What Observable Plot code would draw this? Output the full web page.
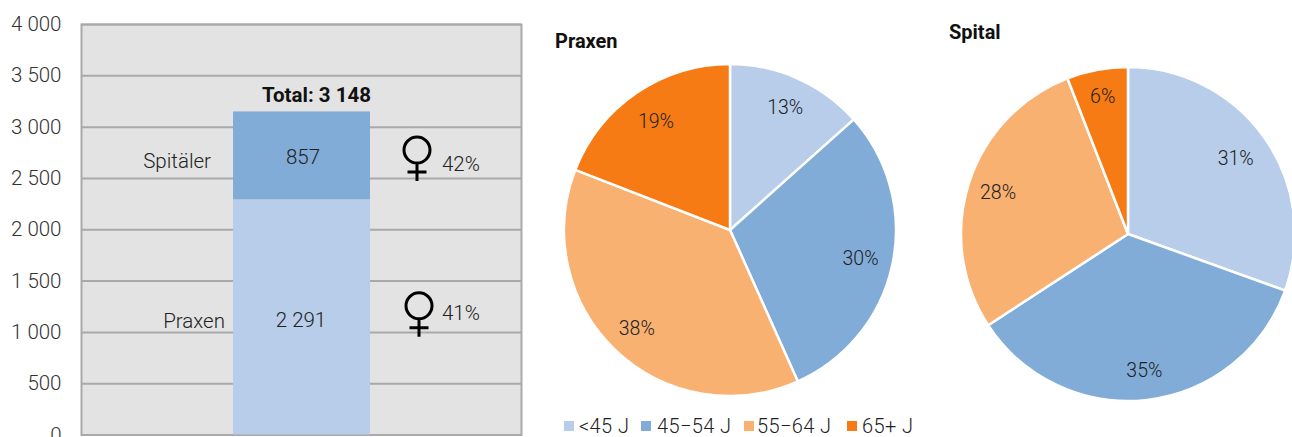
<!DOCTYPE html>
<html><head><meta charset="utf-8">
<script src="https://cdn.jsdelivr.net/npm/d3@7"></script>
<script src="https://cdn.jsdelivr.net/npm/@observablehq/plot@0.6"></script>
<style>
html,body{margin:0;padding:0;background:#fff;overflow:hidden;width:1292px;height:437px}
#root{position:relative;width:1292px;height:437px;font-family:Roboto,sans-serif}
#root svg{position:absolute;background:transparent}
.ttl{position:absolute;font-weight:700;font-size:20px;color:#111;line-height:20px}
.leg{position:absolute;font-weight:300;font-size:20px;letter-spacing:.4px;color:#222;line-height:20px;white-space:nowrap;top:416px}
.sw{position:absolute;width:10px;height:10px;top:421px}
</style></head><body><div id="root"></div>
<script>
const ageGroups = ["<45 J", "45−54 J", "55−64 J", "65+ J"];
const ageColors = ["#b7cdea", "#82acd8", "#f9b172", "#f77b14"];
const praxenShares = [13.4, 29.9, 37.6, 19.1];
const spitalShares = [30.5, 35.3, 28.3, 5.9];
const barSegments = ["Praxen", "Spitäler"];
const barValues = [2291, 857];
const barColors = ["#b7cdea", "#82acd8"];
const femaleShares = ["41%", "42%"];
const yTicks = [0, 500, 1000, 1500, 2000, 2500, 3000, 3500, 4000];
const total = 3148;

const root = document.getElementById("root");
const fmtS = n => String(n).replace(/\B(?=(\d{3})+$)/g, " ");
const FONT = "Roboto";

// ---- stacked bar ----
let acc = 0;
const stack = barSegments.map((s, i) => {
  const o = {seg: s, y1: acc, y2: acc + barValues[i], v: barValues[i], c: barColors[i]};
  acc += barValues[i];
  return o;
});
const [praxen, spitaeler] = stack;
const cat = "Total";
const x = () => cat;
const label = {fontSize: 20.5, fontWeight: 300, fill: "#222"};
// Venus sign as a dot symbol: ring, stem and crossbar
const venusSymbol = {draw(ctx) {
  ctx.moveTo(13, 0); ctx.arc(0, 0, 13, 0, 2 * Math.PI);
  ctx.moveTo(0, 13); ctx.lineTo(0, 31);
  ctx.moveTo(-9.5, 22); ctx.lineTo(9.5, 22);
}};
const venus = {x, symbol: venusSymbol, fill: "none", stroke: "#000", strokeWidth: 3};
const bar = Plot.plot({
  width: 540, height: 437,
  marginLeft: 81, marginRight: 19, marginTop: 24, marginBottom: 2.5,
  style: {fontFamily: FONT, background: "transparent"},
  x: {type: "band", domain: [cat], padding: 0.525, axis: null},
  y: {domain: [0, 4000], axis: null},
  marks: [
    Plot.frame({fill: "#e3e3e3", stroke: "#a9a9a9", strokeWidth: 2}),
    Plot.ruleY(yTicks, {stroke: "#a9a9a9", strokeWidth: 2}),
    Plot.axisY({ticks: yTicks, tickSize: 0, tickPadding: 20, tickFormat: fmtS, fontSize: 20.5, fontWeight: 300, fill: "#333"}),
    Plot.barY(stack, {x, y1: "y1", y2: "y2", fill: "c"}),
    Plot.text([spitaeler], {x, y: 2700, text: d => fmtS(d.v), ...label, dx: 1}),
    Plot.text([praxen], {x, y: 1120, text: d => fmtS(d.v), ...label, dx: -1}),
    Plot.text([total], {x, y: 3310, text: d => "Total: " + fmtS(d), fontSize: 20.5, fontWeight: 700, fill: "#111", dx: 14.5}),
    Plot.text([spitaeler], {x, y: 2670, text: "seg", ...label, textAnchor: "end", dx: -91}),
    Plot.text([praxen], {x, y: 1110, text: "seg", ...label, textAnchor: "end", dx: -77}),
    Plot.dot([spitaeler], {...venus, y: 2776, dx: 115}),
    Plot.dot([praxen], {...venus, y: 1259, dx: 117}),
    Plot.text([femaleShares[1]], {x, y: 2640, text: d => d, ...label, textAnchor: "start", dx: 140}),
    Plot.text([femaleShares[0]], {x, y: 1185, text: d => d, ...label, textAnchor: "start", dx: 140})
  ]
});
bar.style.left = "0px"; bar.style.top = "0px";
root.appendChild(bar);

// ---- pies ----
function pie(shares, cx, cy, r, labelR) {
  const arcs = d3.pie().sort(null)(shares).map((a, i) => ({...a, group: ageGroups[i], share: shares[i], lr: labelR[i]}));
  const arcGen = d3.arc().innerRadius(0).outerRadius(r);
  const pad = 4, size = 2 * (r + pad);
  const mid = a => (a.startAngle + a.endAngle) / 2;
  const p = Plot.plot({
    width: size, height: size, margin: pad,
    style: {background: "transparent", fontFamily: FONT},
    x: {domain: [-r, r], axis: null},
    y: {domain: [-r, r], axis: null, reverse: true},
    color: {domain: ageGroups, range: ageColors},
    marks: [
      Plot.dot(arcs, {x: () => 0, y: () => 0, fill: "group", render(index, scales, values, dims) {
        const g = d3.create("svg:g");
        g.selectAll("path").data(index).join("path")
          .attr("transform", i => `translate(${values.x[i]},${values.y[i]})`)
          .attr("d", i => arcGen(arcs[i]))
          .attr("fill", i => values.fill[i])
          .attr("stroke", "#fff").attr("stroke-width", 2.5);
        return g.node();
      }}),
      Plot.text(arcs, {x: a => Math.sin(mid(a)) * a.lr, y: a => -Math.cos(mid(a)) * a.lr,
        text: a => Math.round(a.share) + "%", fontSize: 19.5, fontWeight: 300, fill: "#222"})
    ]
  });
  p.style.left = (cx - r - pad) + "px";
  p.style.top = (cy - r - pad) + "px";
  root.appendChild(p);
}
pie(praxenShares, 730, 229.5, 166, [134, 133, 136, 132]);
pie(spitalShares, 1128, 234, 167, [131, 137, 137, 140]);

// ---- titles and legend ----
[["Praxen", 555, 31], ["Spital", 949, 22]].forEach(([t, x, y]) => {
  const d = document.createElement("div");
  d.className = "ttl"; d.textContent = t; d.style.left = x + "px"; d.style.top = y + "px";
  root.appendChild(d);
});
const swX = [564, 641, 744, 847], txX = [579, 657, 757, 862];
ageGroups.forEach((g, i) => {
  const s = document.createElement("div");
  s.className = "sw"; s.style.left = swX[i] + "px"; s.style.background = ageColors[i];
  root.appendChild(s);
  const t = document.createElement("div");
  t.className = "leg"; t.textContent = g; t.style.left = txX[i] + "px";
  root.appendChild(t);
});
</script></body></html>
